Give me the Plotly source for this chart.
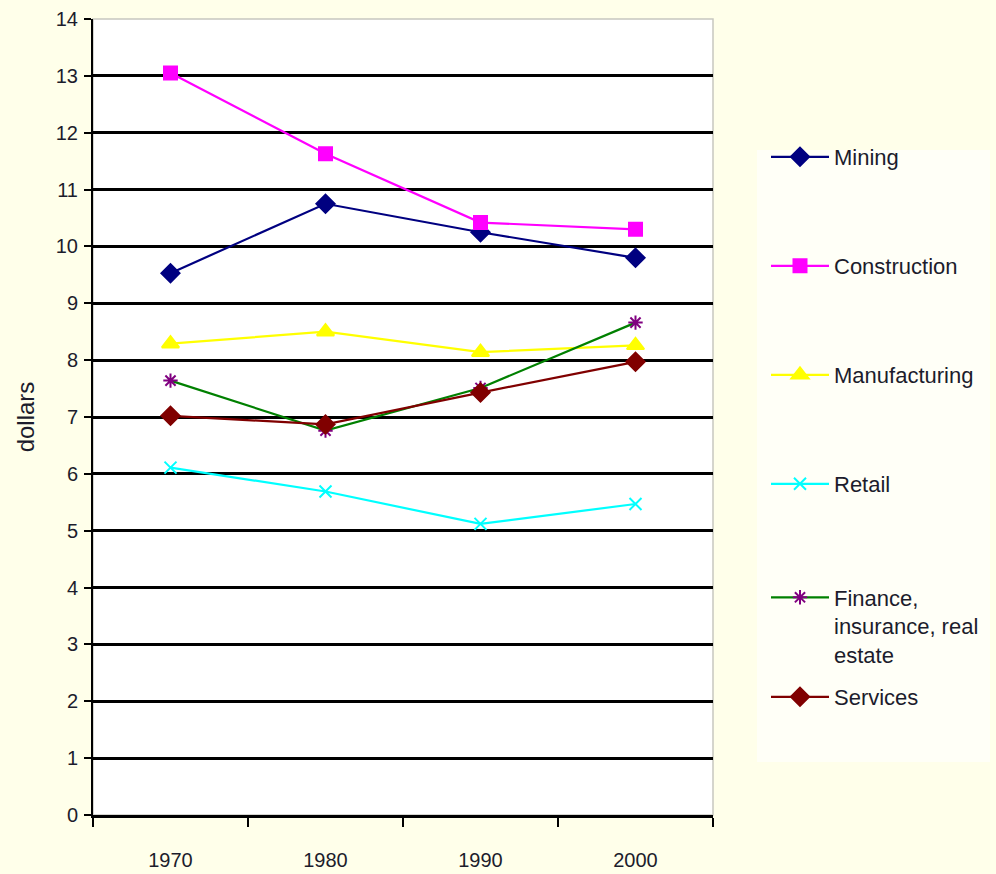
import plotly.graph_objects as go

# Average hourly earnings by industry, 1970-2000
years = ["1970", "1980", "1990", "2000"]
mining = [9.53, 10.75, 10.25, 9.80]
construction = [13.05, 11.63, 10.42, 10.30]
manufacturing = [8.29, 8.50, 8.14, 8.26]
retail = [6.11, 5.69, 5.12, 5.47]
finance = [7.64, 6.76, 7.51, 8.66]
services = [7.02, 6.87, 7.43, 7.97]

names = ["Mining", "Construction", "Manufacturing", "Retail",
         "Finance,<br>insurance, real<br>estate", "Services"]
series = [mining, construction, manufacturing, retail, finance, services]
line_colors = ["#000080", "#FF00FF", "#FFFF00", "#00FFFF", "#008000", "#800000"]
marker_colors = ["#000080", "#FF00FF", "#FFFF00", "#00FFFF", "#800080", "#800000"]
symbols = ["diamond", "square", "triangle-up", "x-thin-open", "asterisk-open", "diamond"]
sizes = [14, 13, 15, 12, 12, 14]

FONT = "Liberation Sans, Arial, sans-serif"
TEXT = "#1c1c2c"
PAPER = "#FFFFEA"

fig = go.Figure()
legend_ids = ["legend", "legend2", "legend3", "legend4", "legend5", "legend6"]
for i, (nm, vals) in enumerate(zip(names, series)):
    fig.add_trace(go.Scatter(
        x=years, y=vals, name=nm, mode="lines+markers",
        line=dict(color=line_colors[i], width=2.2),
        marker=dict(symbol=symbols[i], size=sizes[i], color=marker_colors[i],
                    line=dict(color=marker_colors[i], width=2)),
        legend=legend_ids[i],
    ))

# legend entry centres (paper pixels), converted into plot-domain fractions
L, R, T, B = 93, 713, 19, 815
W, H = R - L, B - T
entry_y = [157, 266, 375, 484, 626, 697]
for lid, ypx in zip(legend_ids, entry_y):
    fig.layout[lid] = dict(
        x=(766 - L) / W, xanchor="left",
        y=(B - ypx) / H, yanchor="middle",
        bgcolor="rgba(0,0,0,0)", borderwidth=0,
        font=dict(family=FONT, size=22, color=TEXT),
        valign="top", itemwidth=58,
    )

# legend panel and plot-area frame
fig.add_shape(type="rect", xref="paper", yref="paper",
              x0=(757 - L) / W, x1=(990 - L) / W, y0=(B - 762) / H, y1=(B - 150) / H,
              fillcolor="#FFFFF7", line=dict(width=0), layer="below")
fig.add_shape(type="rect", xref="paper", yref="paper", x0=0, x1=1, y0=0, y1=1,
              line=dict(color="#C8C8C0", width=1.5), layer="below")

fig.update_layout(
    width=996, height=874,
    margin=dict(l=L, r=996 - R, t=T, b=874 - B),
    paper_bgcolor=PAPER, plot_bgcolor="#FFFFFF",
    font=dict(family=FONT, size=20, color=TEXT),
    showlegend=True,
)
fig.update_xaxes(
    type="category", range=[-0.5, 3.5], automargin=False,
    showgrid=False, showline=True, linecolor="#000000", linewidth=2.5,
    ticks="outside", tickson="boundaries", ticklen=9, tickwidth=1.5, tickcolor="#000000",
    tickfont=dict(family=FONT, size=20, color=TEXT), ticklabelstandoff=25,
)
fig.update_yaxes(
    range=[0, 14], dtick=1, tick0=0, automargin=False,
    showgrid=False, zeroline=False,
    showline=True, linecolor="#000000", linewidth=2,
    ticks="outside", ticklen=7, tickwidth=1.5, tickcolor="#000000",
    tickfont=dict(family=FONT, size=20, color=TEXT), ticklabelstandoff=2,
    minor=dict(tickvals=list(range(1, 14)), showgrid=True, gridcolor="#000000",
               gridwidth=2.5, ticks=""),
    title=dict(text="dollars", font=dict(family=FONT, size=24, color=TEXT), standoff=14),
)

fig.write_html("out.html")
